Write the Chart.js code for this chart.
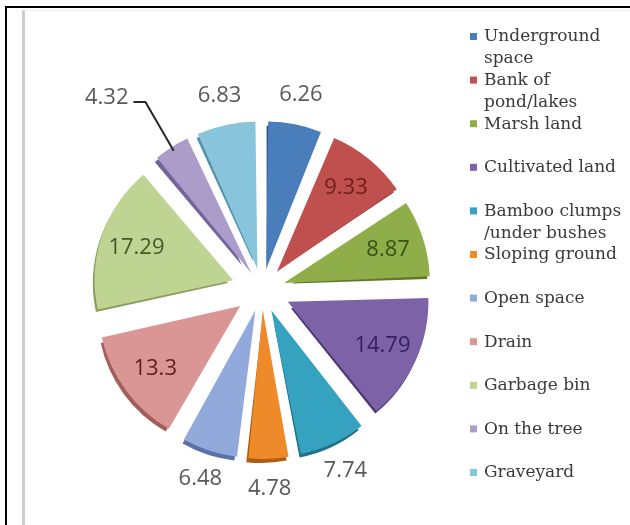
<!DOCTYPE html>
<html>
<head>
<meta charset="utf-8">
<title>Breeding sites</title>
<script src="https://cdn.jsdelivr.net/npm/chart.js"></script>
<style>
  html, body { margin: 0; padding: 0; background: #fff; overflow: hidden; }
  #frame { position: absolute; left: 5px; top: 6px; width: 640px; height: 540px;
           border-top: 2px solid #000; border-left: 2px solid #000; }
  #inner { position: absolute; left: 15px; top: 2px; width: 620px; height: 540px;
           border-left: 3px solid #cdcdcd; border-top: 1px solid #ededed; }
  #chart { position: absolute; left: 0; top: 0; }
</style>
</head>
<body>
<div id="frame"><div id="inner"></div></div>
<canvas id="chart" width="630" height="525"></canvas>
<script>
// slice names, in drawing order (clockwise from 12 o'clock)
const categories = [
  'Underground space', 'Bank of pond/lakes', 'Marsh land', 'Cultivated land',
  'Bamboo clumps /under bushes', 'Sloping ground', 'Open space', 'Drain',
  'Garbage bin', 'On the tree', 'Graveyard'
];
// percentage of sites per category
const values = [6.26, 9.33, 8.87, 14.79, 7.74, 4.78, 6.48, 13.3, 17.29, 4.32, 6.83];

// colours: face, extruded side, value label
const faceColors = ['#4a7ebb', '#c0504d', '#8fae4a', '#7e62a8', '#35a3bf', '#ee8a2a',
                    '#92a9db', '#d99694', '#bfd393', '#ac9cca', '#88c5dc'];
const sideColors = ['#2b5185', '#8a2b29', '#5c7727', '#4c3776', '#1f7189', '#ad5c12',
                    '#5a72a6', '#a35e5c', '#8a9f5e', '#73659a', '#5292aa'];
const labelColors = ['#595959', '#6e1d1c', '#3b4f17', '#33215e', '#595959', '#595959',
                     '#595959', '#5c1f1f', '#46562a', '#595959', '#595959'];
// where each value label goes
const labelPlacement = ['out', 'in', 'in', 'in', 'out', 'out', 'out', 'in', 'in', 'leader', 'out'];

const PIE_RADIUS = 135;
const EXPLODE = 34;          // px every slice is pulled out from the centre
const DEPTH = { x: -2, y: 4 };

// ArcElement moves a slice by offset/4 * (2 - sin(circumference)),
// so invert that to get the same pull-out for every slice
function sliceOffset(ctx) {
  const ds = ctx.chart.data.datasets[0].data;
  const total = ds.reduce((a, b) => a + b, 0);
  const circ = ds[ctx.dataIndex] / total * Math.PI * 2;
  const fix = 1 - Math.sin(Math.min(Math.PI, circ));
  return 4 * EXPLODE / (1 + fix);
}

function arcGeometry(el) {
  const p = el.getProps(['x', 'y', 'startAngle', 'endAngle', 'outerRadius'], true);
  const mid = (p.startAngle + p.endAngle) / 2;
  return {
    cx: p.x + Math.cos(mid) * EXPLODE,
    cy: p.y + Math.sin(mid) * EXPLODE,
    x: p.x, y: p.y, mid,
    start: p.startAngle, end: p.endAngle, r: p.outerRadius
  };
}

// darker copy of every slice under the face, gives the 3D edge
const pieDepth = {
  id: 'pieDepth',
  beforeDatasetsDraw(chart) {
    const ctx = chart.ctx;
    chart.getDatasetMeta(0).data.forEach((el, i) => {
      const g = arcGeometry(el);
      ctx.save();
      ctx.translate(g.cx + DEPTH.x, g.cy + DEPTH.y);
      ctx.beginPath();
      ctx.moveTo(0, 0);
      ctx.arc(0, 0, g.r, g.start, g.end);
      ctx.closePath();
      ctx.fillStyle = sideColors[i];
      ctx.fill();
      ctx.restore();
    });
  }
};

const sliceLabels = {
  id: 'sliceLabels',
  afterDatasetsDraw(chart) {
    const ctx = chart.ctx;
    const data = chart.data.datasets[0].data;
    ctx.save();
    ctx.font = '22px "Open Sans", sans-serif';
    ctx.textAlign = 'center';
    ctx.textBaseline = 'middle';
    chart.getDatasetMeta(0).data.forEach((el, i) => {
      const g = arcGeometry(el);
      const text = String(data[i]);
      ctx.fillStyle = labelColors[i];
      let tx, ty;
      if (labelPlacement[i] === 'in') {
        const d = g.r * 0.73;
        tx = g.cx + Math.cos(g.mid) * d;
        ty = g.cy + Math.sin(g.mid) * d;
      } else if (labelPlacement[i] === 'out') {
        const d = g.r + 30;
        tx = g.cx + Math.cos(g.mid) * d;
        ty = g.cy + Math.sin(g.mid) * d;
      } else {
        // pushed further out, joined back to the slice with a leader line
        const a = g.mid - 0.115;
        const d = g.r + EXPLODE + 78;
        tx = g.x + Math.cos(a) * d;
        ty = g.y + Math.sin(a) * d;
        const w = ctx.measureText(text).width;
        ctx.strokeStyle = '#262626';
        ctx.lineWidth = 2;
        ctx.beginPath();
        ctx.moveTo(tx + w / 2 + 5, ty + 4);
        ctx.lineTo(tx + w / 2 + 17, ty + 4);
        ctx.lineTo(g.cx + Math.cos(g.mid) * (g.r - 4), g.cy + Math.sin(g.mid) * (g.r - 4));
        ctx.stroke();
      }
      ctx.fillText(text, tx, ty);
    });
    ctx.restore();
  }
};

// legend on the right: small square + wrapped serif text
const sideLegend = {
  id: 'sideLegend',
  afterDraw(chart) {
    const ctx = chart.ctx;
    const labels = chart.data.labels;
    const colors = chart.data.datasets[0].backgroundColor;
    const left = 470, top = 37, step = 43.6, lineH = 22, maxW = 150;
    ctx.save();
    ctx.font = '17px "DejaVu Serif", serif';
    ctx.textBaseline = 'middle';
    ctx.textAlign = 'left';
    labels.forEach((label, i) => {
      const y = top + i * step;
      ctx.fillStyle = colors[i];
      ctx.fillRect(left, y - 4, 7, 7);
      // word wrap
      const words = label.split(' ');
      const lines = [];
      let line = '';
      words.forEach(w => {
        const t = line ? line + ' ' + w : w;
        if (line && ctx.measureText(t).width > maxW) {
          lines.push(line);
          line = w;
        } else {
          line = t;
        }
      });
      lines.push(line);
      ctx.fillStyle = '#3a3a3a';
      lines.forEach((l, k) => ctx.fillText(l, left + 14, y + k * lineH));
    });
    ctx.restore();
  }
};

new Chart(document.getElementById('chart'), {
  type: 'pie',
  data: {
    labels: categories,
    datasets: [{
      data: values,
      backgroundColor: faceColors,
      borderWidth: 0,
      offset: sliceOffset
    }]
  },
  options: {
    responsive: false,
    animation: false,
    events: [],
    radius: PIE_RADIUS,
    layout: { padding: { left: 30, right: 136, top: 60, bottom: 5 } },
    plugins: {
      legend: { display: false },
      tooltip: { enabled: false }
    }
  },
  plugins: [pieDepth, sliceLabels, sideLegend]
});
</script>
</body>
</html>
